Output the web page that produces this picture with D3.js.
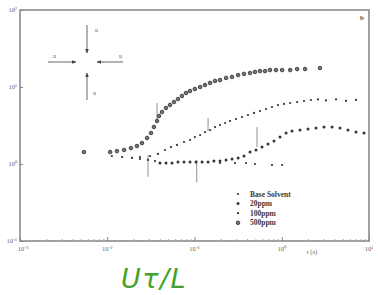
<!DOCTYPE html>
<html><head><meta charset="utf-8">
<script src="https://cdn.jsdelivr.net/npm/d3@7"></script>
<style>html,body{margin:0;padding:0;background:#fff;}svg{display:block;}</style>
</head><body>
<svg id="c" width="378" height="295"></svg>
<script>
// ---- data ----
const xTicks = [1e-3, 1e-2, 1e-1, 1, 10];
const xTickLabels = ["10\u207B\u00B3", "10\u207B\u00B2", "10\u207B\u00B9", "10\u2070", "10\u00B9"];
const yTicks = [0.1, 1, 10, 100];
const yTickLabels = ["10\u207B\u00B9", "10\u2070", "10\u00B9", "10\u00B2"];
const seriesNames = ["Base Solvent", "20ppm", "100ppm", "500ppm"];

const baseT = [0.0113,0.0148,0.0192,0.0237,0.0293,0.0353,0.196,0.291,0.389,0.493,0.773,1.01];
const baseV = [1.27,1.23,1.20,1.16,1.13,1.09,1.03,1.03,1.03,1.00,0.97,0.97];

const p20T = [0.0402,0.0471,0.0552,0.0647,0.0758,0.0888,0.104,0.122,0.143,0.167,0.196,0.23,0.269,0.316,0.369,0.433,0.507,0.594,0.696,0.815,0.955,1.12,1.31,1.62,2.0,2.47,3.05,3.77,4.65,5.74,7.1,8.77];
const p20V = [1.03,1.03,1.03,1.06,1.06,1.06,1.06,1.06,1.06,1.09,1.09,1.13,1.16,1.20,1.27,1.43,1.52,1.66,1.82,1.99,2.24,2.53,2.68,2.76,2.85,2.93,3.02,3.02,2.93,2.76,2.60,2.53];

const p100T = [0.0237,0.0309,0.0382,0.0459,0.0538,0.063,0.0758,0.0888,0.101,0.116,0.132,0.151,0.172,0.196,0.224,0.255,0.299,0.35,0.41,0.481,0.563,0.66,0.773,0.906,1.06,1.25,1.5,1.8,2.16,2.6,3.21,4.19,5.45,7.1];
const p100V = [1.23,1.27,1.35,1.52,1.66,1.77,1.93,2.05,2.24,2.38,2.60,2.76,3.02,3.21,3.41,3.62,3.84,4.08,4.33,4.60,4.88,5.18,5.50,5.84,6.02,6.20,6.39,6.58,6.78,6.90,6.70,6.90,6.60,6.80];

const p500T = [0.0054,0.0108,0.0129,0.0156,0.0187,0.0219,0.025,0.0286,0.0317,0.0343,0.0372,0.0392,0.0424,0.0471,0.0524,0.0582,0.0647,0.0719,0.0799,0.0888,0.101,0.116,0.132,0.151,0.172,0.196,0.23,0.269,0.316,0.369,0.433,0.493,0.563,0.643,0.733,0.859,1.01,1.25,1.5,1.85,2.74];
const p500V = [1.43,1.43,1.47,1.52,1.61,1.71,1.87,2.18,2.53,3.03,3.62,4.20,4.73,5.34,5.84,6.39,6.98,7.64,8.36,8.87,9.42,10.0,10.6,11.3,12.0,12.3,13.1,13.5,14.3,14.8,15.2,15.7,16.1,16.1,16.6,16.6,16.6,16.6,17.1,17.1,17.6];

// vertical arrow marks on the curves: t, v top, v bottom
const markT = [0.0372, 0.143, 0.0293, 0.106, 0.52];
const markV0 = [6.2, 3.95, 1.31, 1.13, 3.02];
const markV1 = [3.73, 2.68, 0.68, 0.58, 1.66];

// ---- drawing ----
const svg = d3.select("#c");
const x = d3.scaleLog().domain([1e-3, 10]).range([20, 369]);
const y = d3.scaleLog().domain([0.1, 100]).range([241, 10]);
const ink = "#353535";

// frame
svg.append("rect").attr("x", 20).attr("y", 10).attr("width", 349).attr("height", 231)
  .attr("fill", "none").attr("stroke", "#8a8a8a").attr("stroke-width", 1.6);

// axes ticks (inward)
svg.append("g").attr("transform", "translate(0,241)")
  .call(d3.axisTop(x).tickValues(xTicks).tickSize(4).tickFormat(""))
  .call(g => { g.select(".domain").remove(); g.selectAll("line").attr("stroke", "#888"); });
const xMinor = [];
for (let e = -3; e < 1; e++) for (let k = 2; k < 10; k++) xMinor.push(k * Math.pow(10, e));
svg.append("g").attr("transform", "translate(0,241)")
  .call(d3.axisTop(x).tickValues(xMinor).tickSize(2).tickFormat(""))
  .call(g => { g.select(".domain").remove(); g.selectAll("line").attr("stroke", "#aaa"); });
svg.append("g").attr("transform", "translate(20,0)")
  .call(d3.axisRight(y).tickValues(yTicks).tickSize(3).tickFormat(""))
  .call(g => { g.select(".domain").remove(); g.selectAll("line").attr("stroke", "#888"); });

// tick labels
const lab = svg.append("g").attr("font-family", "Liberation Serif, serif").attr("font-size", 6.5).attr("fill", "#666");
xTicks.forEach((t, i) => {
  if (i === 0) return;
  lab.append("text").attr("x", x(t)).attr("y", 251).attr("text-anchor", "middle").text(xTickLabels[i]);
});
lab.append("text").attr("x", 23).attr("y", 251).attr("text-anchor", "middle").text(xTickLabels[0]);
yTicks.forEach((v, i) => {
  lab.append("text").attr("x", 17).attr("y", y(v) + 2).attr("text-anchor", "end").text(yTickLabels[i]);
});
lab.append("text").attr("x", 312).attr("y", 254).attr("text-anchor", "middle").text("t (s)");
svg.append("text").attr("x", 362).attr("y", 20).attr("font-family", "Liberation Serif, serif")
  .attr("font-size", 7).attr("font-weight", "bold").attr("fill", "#555").attr("text-anchor", "middle").text("b");

// inset arrows (flow schematic)
const defs = svg.append("defs");
defs.append("marker").attr("id", "ah").attr("viewBox", "0 0 10 10").attr("refX", 9).attr("refY", 5)
  .attr("markerWidth", 5).attr("markerHeight", 5).attr("orient", "auto")
  .append("path").attr("d", "M0,1 L10,5 L0,9 z").attr("fill", "#444");
const ins = svg.append("g").attr("stroke", "#555").attr("stroke-width", 0.9);
[[87, 25, 87, 53], [48, 62, 76, 62], [123, 62, 97, 62], [87, 100, 87, 73]].forEach(a => {
  ins.append("line").attr("x1", a[0]).attr("y1", a[1]).attr("x2", a[2]).attr("y2", a[3]).attr("marker-end", "url(#ah)");
});
const insT = svg.append("g").attr("font-family", "Liberation Serif, serif").attr("font-size", 6).attr("fill", "#666");
[[95, 32], [53, 58], [119, 58], [93, 95]].forEach(p => insT.append("text").attr("x", p[0]).attr("y", p[1]).text("u"));

// vertical marks
const mk = svg.append("g").attr("stroke", "#777").attr("stroke-width", 0.8);
markT.forEach((t, i) => {
  mk.append("line").attr("x1", x(t)).attr("x2", x(t)).attr("y1", y(markV0[i])).attr("y2", y(markV1[i]));
});

// series
function dots(T, V, r, style) {
  const g = svg.append("g");
  T.forEach((t, i) => {
    const c = g.append("circle").attr("cx", x(t)).attr("cy", y(V[i])).attr("r", r);
    if (style === "ring") c.attr("fill", "#777").attr("stroke", ink).attr("stroke-width", 0.9);
    else c.attr("fill", ink);
  });
}
dots(baseT, baseV, 1.1, "dot");
dots(p20T, p20V, 1.5, "dot");
dots(p100T, p100V, 1.1, "dot");
dots(p500T, p500V, 1.8, "ring");

// legend
const lg = svg.append("g");
const legR = [1.1, 1.5, 1.1, 1.8];
const legS = ["dot", "dot", "dot", "ring"];
seriesNames.forEach((n, i) => {
  const yy = 194 + i * 9.6;
  const c = lg.append("circle").attr("cx", 238).attr("cy", yy).attr("r", legR[i]);
  if (legS[i] === "ring") c.attr("fill", "#777").attr("stroke", ink).attr("stroke-width", 0.9); else c.attr("fill", ink);
  lg.append("text").attr("x", 250).attr("y", yy + 2.5).attr("font-family", "Liberation Serif, serif")
    .attr("font-size", 7.5).attr("font-weight", "bold").attr("fill", "#3a3a3a").text(n);
});

// green label
svg.append("text").attr("x", 121).attr("y", 288).attr("font-family", "DejaVu Sans, sans-serif")
  .attr("font-style", "italic").attr("font-size", 27).attr("letter-spacing", 1.5)
  .attr("fill", "#44a12b").text("U\u03C4/L");
</script>
</body></html>
